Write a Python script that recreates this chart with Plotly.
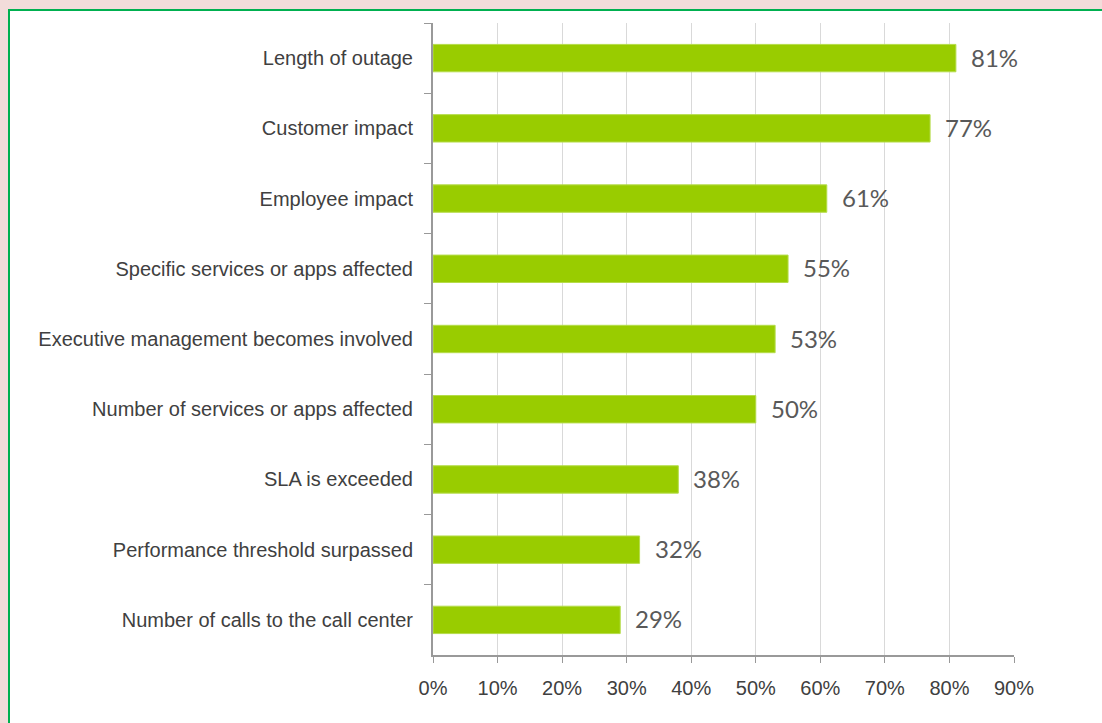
import plotly.graph_objects as go

categories = [
    "Length of outage",
    "Customer impact",
    "Employee impact",
    "Specific services or apps affected",
    "Executive management becomes involved",
    "Number of services or apps affected",
    "SLA is exceeded",
    "Performance threshold surpassed",
    "Number of calls to the call center",
]
values = [81, 77, 61, 55, 53, 50, 38, 32, 29]
value_labels = ["81%", "77%", "61%", "55%", "53%", "50%", "38%", "32%", "29%"]
x_tickvals = [0, 10, 20, 30, 40, 50, 60, 70, 80, 90]
x_ticktext = ["0%", "10%", "20%", "30%", "40%", "50%", "60%", "70%", "80%", "90%"]

W, H = 1102, 723
ML, MR, MT, MB = 433, 88, 23, 68
PW, PH = W - ML - MR, H - MT - MB

def px_to_paper_x(px):
    return (px - ML) / PW

def px_to_paper_y(py):
    return (H - MB - py) / PH

label_font = "Liberation Sans Narrow, Arial Narrow, Liberation Sans, Arial, sans-serif"

fig = go.Figure()
fig.add_trace(go.Bar(
    x=values,
    y=categories,
    orientation="h",
    width=0.39,
    marker=dict(color="#99cc00", line=dict(color="#b5dc4a", width=1)),
    hoverinfo="skip",
))

for v, c, t in zip(values, categories, value_labels):
    fig.add_annotation(
        x=v, y=c, text=t, showarrow=False, xanchor="left", xshift=13, yshift=1,
        font=dict(family="Lato, Open Sans, sans-serif", size=24, color="#595959"),
    )

fig.add_shape(
    type="rect", xref="paper", yref="paper", layer="below",
    x0=px_to_paper_x(9), x1=px_to_paper_x(1120),
    y0=px_to_paper_y(740), y1=px_to_paper_y(10),
    fillcolor="white", line=dict(color="#00b050", width=2),
)

fig.update_layout(
    width=W, height=H,
    margin=dict(l=ML, r=MR, t=MT, b=MB),
    paper_bgcolor="#f2dcda",
    plot_bgcolor="rgba(0,0,0,0)",
    showlegend=False,
    bargap=0.6,
    xaxis=dict(
        range=[0, 90],
        tickvals=x_tickvals,
        ticktext=x_ticktext,
        showgrid=True, gridcolor="#d9d9d9", gridwidth=1,
        zeroline=False,
        showline=True, linecolor="#999999", linewidth=2,
        ticks="outside", ticklen=6, tickcolor="#999999", tickwidth=1,
        tickfont=dict(family=label_font, size=20, color="#404040"),
        ticklabelstandoff=8,
    ),
    yaxis=dict(
        autorange="reversed",
        showgrid=False, zeroline=False,
        showline=True, linecolor="#999999", linewidth=2,
        ticks="outside", ticklen=7, tickcolor="#999999", tickwidth=1,
        tickson="boundaries",
        tickfont=dict(family=label_font, size=20, color="#404040"),
        ticklabelstandoff=14,
    ),
)

fig.write_html("out.html")
